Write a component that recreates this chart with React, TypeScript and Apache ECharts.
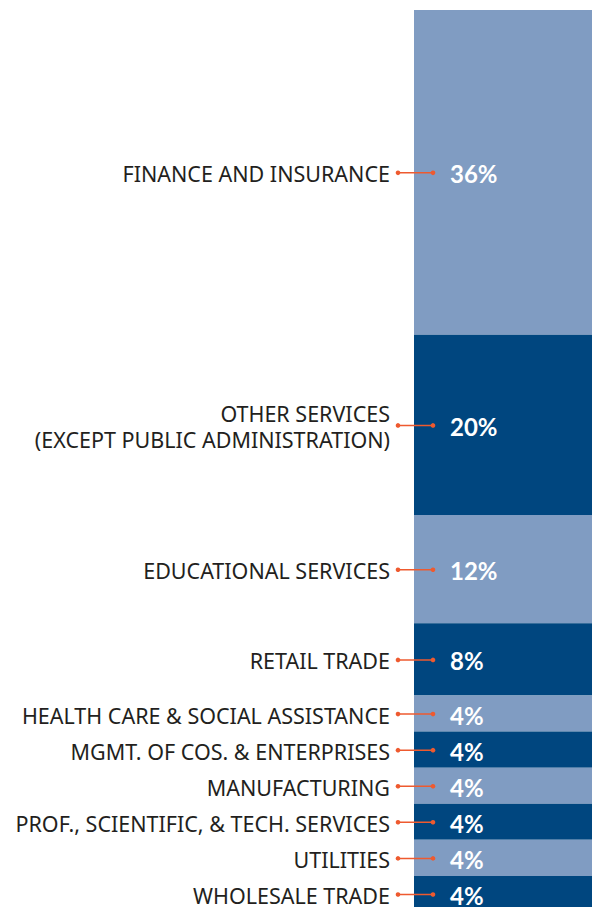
import React, { useEffect, useRef } from "react";
import * as echarts from "echarts";

const categories = [
  "FINANCE AND INSURANCE",
  "OTHER SERVICES\n(EXCEPT PUBLIC ADMINISTRATION)",
  "EDUCATIONAL SERVICES",
  "RETAIL TRADE",
  "HEALTH CARE & SOCIAL ASSISTANCE",
  "MGMT. OF COS. & ENTERPRISES",
  "MANUFACTURING",
  "PROF., SCIENTIFIC, & TECH. SERVICES",
  "UTILITIES",
  "WHOLESALE TRADE",
];
const values = [36, 20, 12, 8, 4, 4, 4, 4, 4, 4];
const palette = ["#809CC2", "#00467F"];
const ORANGE = "#EE5A2F";

export default function App() {
  const ref = useRef<HTMLDivElement>(null);
  useEffect(() => {
    if (!ref.current) return;
    const chart = echarts.init(ref.current, null, { renderer: "svg" });

    let acc = 0;
    const mids: number[][] = values.map((v, i) => {
      const m = acc + v / 2;
      acc += v;
      return [0, m, i];
    });

    const barSeries = values.map((v, i) => ({
      type: "bar",
      name: categories[i],
      stack: "total",
      barWidth: "100%",
      data: [v],
      itemStyle: { color: palette[i % 2] },
      label: {
        show: true,
        position: "insideLeft",
        distance: 36,
        offset: [0, 1.5],
        formatter: "{c}%",
        color: "#ffffff",
        fontFamily: "Lato",
        fontWeight: "bold",
        fontSize: 24,
      },
      emphasis: { disabled: true },
    }));

    chart.setOption({
      animation: false,
      grid: { left: 414, right: 0, top: 10, height: 902, containLabel: false },
      xAxis: { type: "category", data: ["share"], show: false },
      yAxis: { type: "value", min: 0, max: 100, inverse: true, show: false },
      series: [
        ...barSeries,
        {
          type: "custom",
          clip: false,
          silent: true,
          z: 10,
          data: mids,
          renderItem: (params: any, api: any) => {
            const pt = api.coord([api.value(0), api.value(1)]);
            const band = api.size([1, 0])[0];
            const left = pt[0] - band / 2;
            const y = pt[1] + 0.5;
            const idx = api.value(2);
            return {
              type: "group",
              children: [
                {
                  type: "line",
                  shape: { x1: left - 16, y1: y, x2: left + 19, y2: y },
                  style: { stroke: ORANGE, lineWidth: 1.5 },
                },
                { type: "circle", shape: { cx: left - 16, cy: y, r: 2.3 }, style: { fill: ORANGE } },
                { type: "circle", shape: { cx: left + 19, cy: y, r: 2.3 }, style: { fill: ORANGE } },
                {
                  type: "text",
                  style: {
                    text: categories[idx],
                    x: left - 24,
                    y: y + 1,
                    align: "right",
                    verticalAlign: "middle",
                    fill: "#231F20",
                    font: "21.5px 'Noto Sans'",
                    lineHeight: 26,
                  },
                },
              ],
            };
          },
        },
      ],
    });
    return () => chart.dispose();
  }, []);
  return (
    <div style={{ position: "absolute", left: 0, top: 0, width: 592, height: 907, overflow: "hidden" }}>
      <div ref={ref} style={{ width: 592, height: 920 }} />
    </div>
  );
}
